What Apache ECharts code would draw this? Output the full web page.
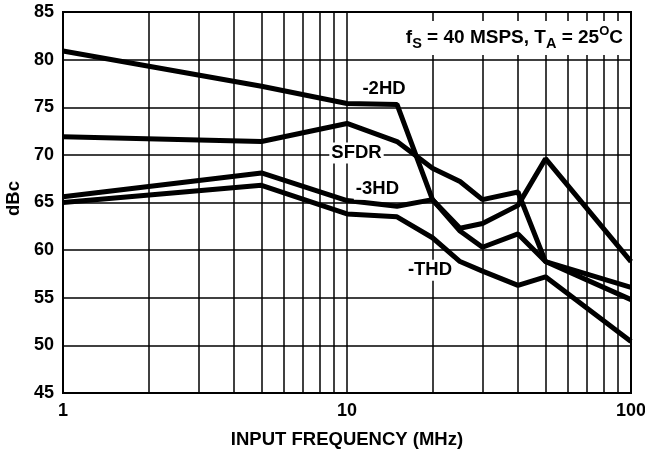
<!DOCTYPE html>
<html>
<head>
<meta charset="utf-8">
<script src="https://cdn.jsdelivr.net/npm/echarts@6/dist/echarts.min.js"></script>
<style>
  html, body { margin: 0; padding: 0; background: #fff; }
  #chart { width: 645px; height: 454px; }
</style>
</head>
<body>
<div id="chart"></div>
<script>
  // input frequency (MHz) of each measured point
  const freqs = [1, 5, 10, 15, 20, 25, 30, 40, 50, 100];
  const hd2 = [80.9, 77.2, 75.4, 75.3, 65.3, 62.3, 62.8, 64.7, 69.6, 58.8];
  const sfdr = [71.9, 71.4, 73.3, 71.4, 68.6, 67.2, 65.3, 66.1, 58.8, 56.1];
  const hd3 = [65.6, 68.1, 65.2, 64.6, 65.3, 62.0, 60.3, 61.7, 58.8, 54.8];
  const thd = [65.0, 66.8, 63.8, 63.5, 61.3, 58.8, 57.8, 56.3, 57.2, 50.4];

  // log grid lines between decades
  const minorFreqs = [2, 3, 4, 5, 6, 7, 8, 9, 20, 30, 40, 50, 60, 70, 80, 90];

  const FONT = 'Liberation Sans';

  function pairs(ys) {
    return freqs.map((f, i) => [f, ys[i]]);
  }

  function curve(name, ys, labelAt) {
    return {
      name: name,
      type: 'line',
      data: pairs(ys),
      symbol: 'none',
      z: 3,
      lineStyle: { color: '#000', width: 5 },
      markPoint: {
        symbol: 'circle',
        symbolSize: 0,
        silent: true,
        label: {
          show: true,
          formatter: name,
          color: '#000',
          fontFamily: FONT,
          fontWeight: 'bold',
          fontSize: 18.5,
          backgroundColor: '#fff',
          padding: [1, 2]
        },
        data: [{ coord: labelAt }]
      }
    };
  }

  let chart = echarts.init(document.getElementById('chart'));
  const option = {
    animation: false,
    title: {
      text: '{i|f}{sub|S}{i| = 40 MSPS, T}{sub|A}{i| = 25}{sup|O}{i|C}',
      right: 16,
      top: 21,
      padding: [4, 6, 4, 6],
      backgroundColor: '#fff',
      textStyle: {
        rich: {
          i: { fontFamily: FONT, fontWeight: 'bold', fontSize: 19, color: '#000', lineHeight: 26 },
          sub: { fontFamily: FONT, fontWeight: 'bold', fontSize: 14.5, color: '#000', lineHeight: 14, verticalAlign: 'bottom' },
          sup: { fontFamily: FONT, fontWeight: 'bold', fontSize: 13, color: '#000', lineHeight: 22, verticalAlign: 'top' }
        }
      }
    },
    grid: {
      left: 63,
      right: 14,
      top: 12,
      bottom: 61,
      outerBoundsMode: 'none',
      containLabel: false,
      show: true,
      borderColor: '#000',
      borderWidth: 2
    },
    xAxis: {
      type: 'log',
      logBase: 10,
      min: 1,
      max: 100,
      name: 'INPUT FREQUENCY (MHz)',
      nameLocation: 'middle',
      nameGap: 37,
      nameTextStyle: { fontFamily: FONT, fontWeight: 'bold', fontSize: 18.5, color: '#000' },
      axisLine: { show: false },
      axisTick: { show: false },
      axisLabel: { fontFamily: FONT, fontWeight: 'bold', fontSize: 18, color: '#000', margin: 9 },
      splitLine: { show: true, lineStyle: { color: '#000', width: 1.5 } }
    },
    yAxis: {
      type: 'value',
      min: 45,
      max: 85,
      interval: 5,
      name: 'dBc',
      nameLocation: 'middle',
      nameGap: 40,
      nameTextStyle: { fontFamily: FONT, fontWeight: 'bold', fontSize: 18.5, color: '#000', padding: [0, 0, 0, 8] },
      axisLine: { show: false },
      axisTick: { show: false },
      axisLabel: { fontFamily: FONT, fontWeight: 'bold', fontSize: 18, color: '#000', margin: 9 },
      splitLine: { show: true, lineStyle: { color: '#000', width: 1.5 } }
    },
    series: [
      {
        type: 'line',
        data: [],
        z: 1,
        silent: true,
        markLine: {
          silent: true,
          symbol: ['none', 'none'],
          label: { show: false },
          lineStyle: { color: '#000', width: 1.5, type: 'solid' },
          data: minorFreqs.map(v => ({ xAxis: v }))
        }
      },
      curve('-2HD', hd2, [13.5, 76.9]),
      curve('SFDR', sfdr, [10.8, 70.2]),
      curve('-3HD', hd3, [12.8, 66.4]),
      curve('-THD', thd, [19.6, 57.9])
    ]
  };
  chart.setOption(option);
</script>
</body>
</html>
